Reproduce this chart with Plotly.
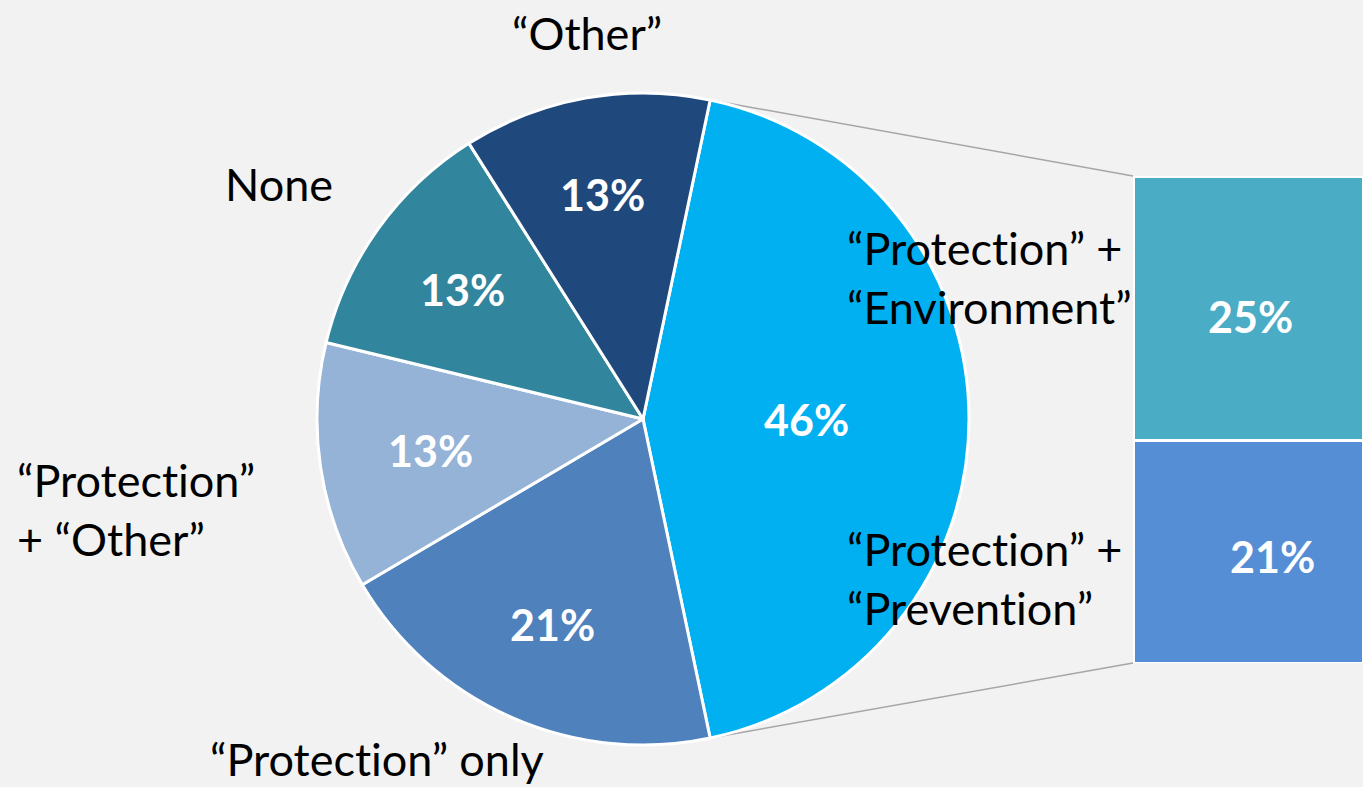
import math
import plotly.graph_objects as go

W, H = 1363, 787

# Pie slices (clockwise, starting with the largest one)
pie_labels = ["“Protection” + ...", "“Protection” only", "“Protection” + “Other”", "None", "“Other”"]
pie_values = [46, 21, 13, 13, 13]
pie_colors = ["#00B0F0", "#4F81BD", "#95B3D7", "#31859C", "#1F497D"]

# Breakdown of the largest slice (bottom to top in the stacked bar)
bar_labels = ["“Protection” + “Prevention”", "“Protection” + “Environment”"]
bar_values = [21, 25]
bar_colors = ["#558ED5", "#4BACC6"]

BG = "#F1F2F1"
FONT = "Lato"
ZWNJ = "\u200c"  # keeps "t" and "i" as separate glyphs (no ligature)

# Pie geometry in pixels
cx, cy, R = 643, 419, 326
total = sum(pie_values)
rotation = 90 - pie_values[0] / total * 180  # centre the big slice on 3 o'clock


def px(x):
    return x / W


def py(y):
    return 1 - y / H


def nolig(s):
    return s.replace("ti", "t" + ZWNJ + "i")


fig = go.Figure()

fig.add_trace(go.Pie(
    labels=pie_labels,
    values=pie_values,
    sort=False,
    direction="clockwise",
    rotation=rotation,
    marker=dict(colors=pie_colors, line=dict(color="white", width=3)),
    textinfo="none",
    hoverinfo="label+value",
    showlegend=False,
    domain=dict(x=[px(cx - R), px(cx + R)], y=[py(cy + R), py(cy - R)]),
))

# Stacked bar for the breakdown
bar_x0, bar_x1, bar_top, bar_bot = 1133, W, 176, 663
for lab, val, col in zip(bar_labels, bar_values, bar_colors):
    fig.add_trace(go.Bar(
        x=[0], y=[val], name=lab, width=1,
        marker=dict(color=col, line=dict(color="white", width=3)),
        textposition="none", hoverinfo="name+y",
        xaxis="x", yaxis="y", showlegend=False,
    ))

fig.update_layout(
    barmode="stack",
    width=W, height=H,
    margin=dict(l=0, r=0, t=0, b=0),
    paper_bgcolor=BG, plot_bgcolor=BG,
    xaxis=dict(domain=[px(bar_x0), 1], range=[-0.5, 0.5], visible=False, fixedrange=True),
    yaxis=dict(domain=[py(bar_bot), py(bar_top)], range=[0, sum(bar_values)], visible=False, fixedrange=True),
)

pct_font = dict(family=FONT, size=43, color="white", weight="bold")

# Percentage labels inside pie slices, placed along each slice's mid-angle
radii = [0.5, 0.69, 0.66, 0.68, 0.7]
start = rotation
annotations = []
for v, rf in zip(pie_values, radii):
    span = v / total * 360
    mid = math.radians(start + span / 2)
    x = cx + rf * R * math.sin(mid)
    y = cy - rf * R * math.cos(mid)
    annotations.append(dict(
        x=px(x), y=py(y), xref="paper", yref="paper", showarrow=False,
        text=f"{v}%", xanchor="center", yanchor="middle", font=pct_font,
    ))
    start += span

# Percentage labels on the bar segments
bar_label_pos = [(1272, 556), (1250, 316)]
for v, (x, y) in zip(bar_values, bar_label_pos):
    annotations.append(dict(
        x=px(x), y=py(y), xref="paper", yref="paper", showarrow=False,
        text=f"{v}%", xanchor="center", yanchor="middle", font=pct_font,
    ))

# Category labels outside the pie
label_font = dict(family=FONT, size=45, color="black")
outer = [
    ("“Other”", 587, 33, "center"),
    ("None", 279, 184, "center"),
    ("“Protection”<br>+ “Other”", 15, 510, "left"),
    ("“Protection” only", 377, 759, "center"),
    ("“Protection” +<br>“Environment”", 845, 277, "left"),
    ("“Protection” +<br>“Prevention”", 845, 578, "left"),
]
for text, x, y, anchor in outer:
    annotations.append(dict(
        x=px(x), y=py(y), xref="paper", yref="paper", showarrow=False,
        text=nolig(text), xanchor=anchor, yanchor="middle", align="left",
        font=label_font,
    ))
fig.update_layout(annotations=annotations)

# Connector lines from the edges of the big slice to the bar corners
a0 = math.radians(rotation)
a1 = math.radians(rotation + pie_values[0] / total * 360)
p_top = (cx + R * math.sin(a0), cy - R * math.cos(a0))
p_bot = (cx + R * math.sin(a1), cy - R * math.cos(a1))
for (x0, y0), y1 in [(p_top, bar_top), (p_bot, bar_bot)]:
    fig.add_shape(type="line", xref="paper", yref="paper",
                  x0=px(x0), y0=py(y0), x1=px(bar_x0), y1=py(y1),
                  line=dict(color="#A6A6A6", width=1.5), layer="below")

fig.write_html("out.html")
